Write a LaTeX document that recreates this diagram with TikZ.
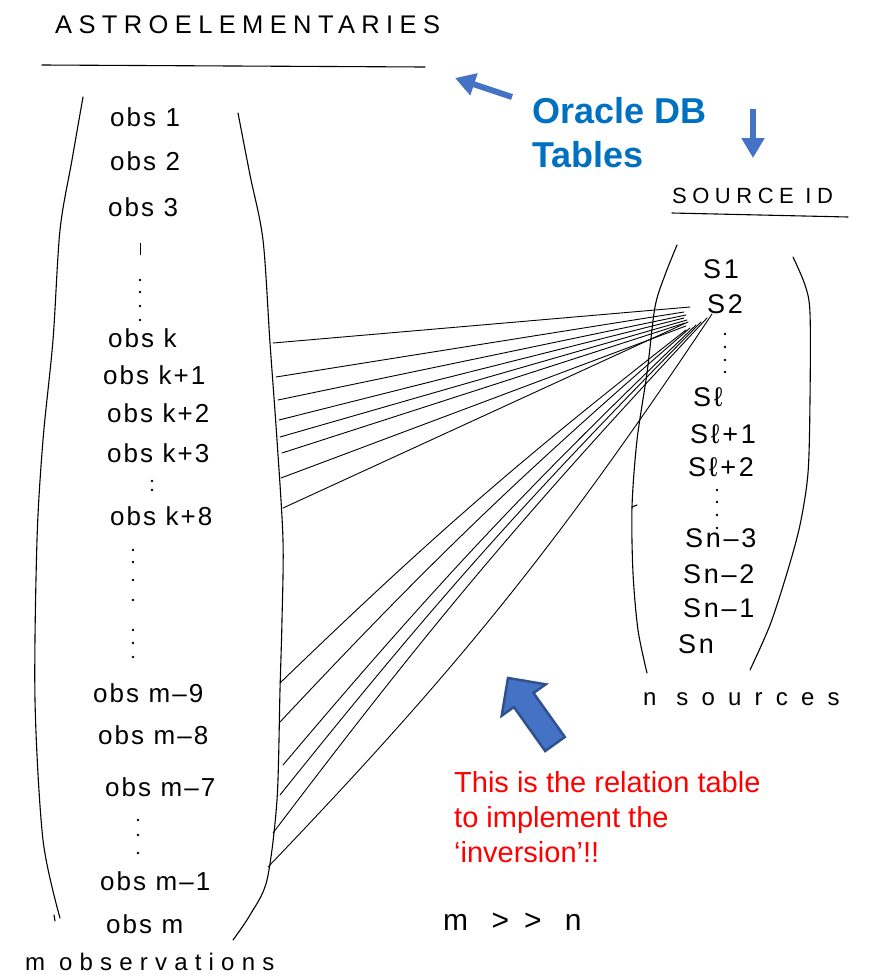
\documentclass[tikz,border=0pt]{standalone}
\usepackage{fontspec}
\setmainfont{Liberation Sans}
\newfontfamily\hwobs{Liberation Sans}[LetterSpace=8]
\newfontfamily\hwsrc{Liberation Sans}[LetterSpace=10]
\newfontfamily\hwttl{Liberation Sans}[LetterSpace=25]
\newfontfamily\hwmobs{Liberation Sans}[LetterSpace=30]
\newfontfamily\hwwide{Liberation Sans}[LetterSpace=55]
\newfontfamily\hwwider{Liberation Sans}[LetterSpace=50]
\usetikzlibrary{arrows.meta}
\definecolor{oracle}{HTML}{0070C0}
\definecolor{arrowblue}{HTML}{4472C4}
\definecolor{arrowedge}{HTML}{2F528F}
\begin{document}
\begin{tikzpicture}[x=1pt,y=-1pt,
  obslbl/.style={anchor=base west, inner sep=0pt, font=\hwobs\fontsize{26}{30}\selectfont},
  srclbl/.style={anchor=base west, inner sep=0pt, font=\hwsrc\fontsize{27}{30}\selectfont},
  hwtitle/.style={anchor=base west, inner sep=0pt},
  bracket/.style={line width=1.1pt, line cap=round, line join=round},
  rel/.style={line width=0.9pt, line cap=round},
  dotmark/.style={fill=black},
  bluearrow/.style={draw=arrowblue, line width=6pt, -{Triangle[length=20pt,width=22pt]}},
  bignote/.style={anchor=base west, inner sep=0pt, align=left}
]
\useasboundingbox (0,0) rectangle (874,975);
\fill[white] (0,0) rectangle (874,975);

% ---------- titles ----------
\node[hwtitle, font=\hwttl\fontsize{25.5}{30}\selectfont] (astro) at (55,33) {ASTROELEMENTARIES};
\draw[bracket] (42,65) -- (425,67);
\node[hwtitle, font=\hwttl\fontsize{22}{26}\selectfont] (srcid) at (672,203) {SOURCE ID};
\draw[bracket] (672,213) -- (848,217);

% ---------- left column brackets ----------
\draw[bracket] plot[smooth] coordinates {(83,97) (72,160) (60,230) (53,340) (43,440) (37,540) (35,700) (43,840) (60,918)};
\draw[bracket] (54,915) -- (55,921);
\draw[bracket] plot[smooth] coordinates {(238,113) (250,175) (263,240) (270,343) (277,440) (283,540) (282,620) (280,690) (277,800) (267,880) (250,915) (233,940)};

% ---------- observation labels ----------
\node[obslbl] (o1)  at (110,126) {obs 1};
\node[obslbl] (o2)  at (110,170) {obs 2};
\node[obslbl] (o3)  at (108,216) {obs 3};
\node[obslbl] (ok)  at (108,347) {obs k};
\node[obslbl] (ok1) at (103,384) {obs k+1};
\node[obslbl] (ok2) at (107,422) {obs k+2};
\node[obslbl] (ok3) at (107,462) {obs k+3};
\node[obslbl] (ok8) at (110,525) {obs k+8};
\node[obslbl] (om9) at (93,702)  {obs m–9};
\node[obslbl] (om8) at (98,744)  {obs m–8};
\node[obslbl] (om7) at (105,796) {obs m–7};
\node[obslbl] (om1) at (100,890) {obs m–1};
\node[obslbl] (om)  at (106,933) {obs m};
\node[hwtitle, font=\hwmobs\fontsize{24}{28}\selectfont] (mobs) at (25,970) {m observations};

% dots in left column
\draw[line width=1pt] (140,243) -- (140,255);
\foreach \y in {280,292,306,320} \fill[dotmark] (140,\y) circle (1.4);
\foreach \y in {481,490} \fill[dotmark] (152,\y) circle (1.3);
\foreach \y in {550,562,580,600,630,643,657} \fill[dotmark] (133,\y) circle (1.4);
\foreach \y in {820,835,853} \fill[dotmark] (138,\y) circle (1.4);

% ---------- right column brackets ----------
\draw[bracket] plot[smooth] coordinates {(677,245) (665,275) (655,307) (647,373) (637,440) (632,507) (633,573) (638,630) (647,673)};
\draw[bracket] (632,507) -- (637,505);
\draw[bracket] plot[smooth] coordinates {(793,257) (805,285) (810,313) (810,400) (808,473) (800,525) (787,573) (770,625) (750,670)};

% ---------- source labels ----------
\node[srclbl] (s1)  at (703,278) {S1};
\node[srclbl] (s2)  at (707,313) {S2};
\node[srclbl] (sl)  at (693,406) {Sℓ};
\node[srclbl] (sl1) at (690,443) {Sℓ+1};
\node[srclbl] (sl2) at (688,476) {Sℓ+2};
\node[srclbl] (sn3) at (685,547) {Sn–3};
\node[srclbl] (sn2) at (683,583) {Sn–2};
\node[srclbl] (sn1) at (683,617) {Sn–1};
\node[srclbl] (sn)  at (678,653) {Sn};
\node[hwtitle, font=\hwwide\fontsize{24}{28}\selectfont] (nsrc) at (643,705) {n sources};

\foreach \y in {334,347,360,372} \fill[dotmark] (725,\y) circle (1.4);
\foreach \y in {490,502,515,528} \fill[dotmark] (717,\y) circle (1.4);

% ---------- relation connectors ----------
\coordinate (a1) at (273,343); \coordinate (b1) at (690,307);
\coordinate (a2) at (276,377); \coordinate (b2) at (684,312);
\coordinate (a3) at (278,400); \coordinate (b3) at (686,315);
\coordinate (a4) at (279,420); \coordinate (b4) at (684,318);
\coordinate (a5) at (280,437); \coordinate (b5) at (687,320);
\coordinate (a6) at (282,453); \coordinate (b6) at (685,323);
\coordinate (a7) at (281,478); \coordinate (b7) at (686,326);
\coordinate (a8) at (283,508); \coordinate (b8) at (688,322);
\foreach \i in {1,...,8} \draw[rel] (a\i) -- (b\i);

\coordinate (c1) at (280,683); \coordinate (d1) at (686,330);
\coordinate (c2) at (280,722); \coordinate (d2) at (690,328);
\coordinate (c3) at (283,765); \coordinate (d3) at (696,325);
\coordinate (c4) at (280,795); \coordinate (d4) at (701,322);
\coordinate (c5) at (273,833); \coordinate (d5) at (707,318);
\coordinate (c6) at (268,867); \coordinate (d6) at (712,314);
\foreach \i in {1,...,5} \draw[rel] (c\i) to[bend left=3] (d\i);
\draw[rel] (c6) to[bend right=5] (d6);

% ---------- annotations ----------
\node[bignote, font=\bfseries\fontsize{36}{44}\selectfont, text=oracle] (oracle) at (532,167) {Oracle DB\\Tables};
\coordinate (t1) at (512,97); \coordinate (h1) at (455,78);
\draw[bluearrow] (t1) -- (h1);
\coordinate (t2) at (753,109); \coordinate (h2) at (753,158);
\draw[bluearrow] (t2) -- (h2);

\draw[fill=arrowblue, draw=arrowedge, line width=2.5pt, line join=miter]
  (545.2,751.0) -- (513.9,707.0) -- (501.7,715.7) -- (508,678) -- (545.7,684.3) -- (533.5,693.0) -- (564.8,737.0) -- cycle;

\node[bignote, font=\fontsize{29}{35}\selectfont, text=red] (note) at (454,862) {This is the relation table\\to implement the\\‘inversion’!!};

\node[hwtitle, font=\hwwider\fontsize{30}{34}\selectfont] (mgn) at (443,930) {m >> n};
\end{tikzpicture}
\end{document}
